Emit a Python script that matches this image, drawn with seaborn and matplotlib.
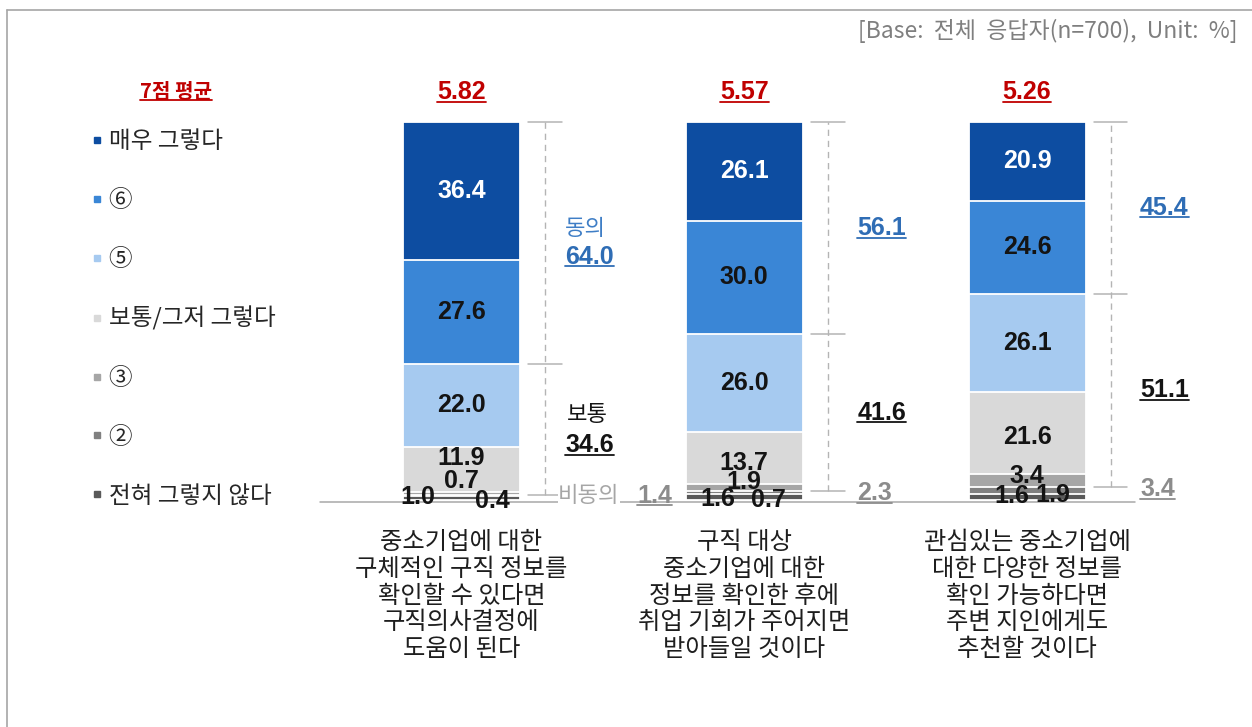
import matplotlib
matplotlib.use("Agg")
import matplotlib.pyplot as plt
import seaborn as sns
import pandas as pd
import numpy as np
from matplotlib.lines import Line2D

# ---------------- data ----------------
categories = [
    "중소기업에 대한\n구체적인 구직 정보를\n확인할 수 있다면\n구직의사결정에\n도움이 된다",
    "구직 대상\n중소기업에 대한\n정보를 확인한 후에\n취업 기회가 주어지면\n받아들일 것이다",
    "관심있는 중소기업에\n대한 다양한 정보를\n확인 가능하다면\n주변 지인에게도\n추천할 것이다",
]
levels = ["매우 그렇다", "⑥", "⑤", "보통/그저 그렇다", "③", "②", "전혀 그렇지 않다"]
v_very = [36.4, 26.1, 20.9]
v_6 = [27.6, 30.0, 24.6]
v_5 = [22.0, 26.0, 26.1]
v_mid = [11.9, 13.7, 21.6]
v_3 = [0.7, 1.9, 3.4]
v_2 = [0.4, 0.7, 1.9]
v_1 = [1.0, 1.6, 1.6]
means = ["5.82", "5.57", "5.26"]
agree = ["64.0", "56.1", "45.4"]
neutral = ["34.6", "41.6", "51.1"]
disagree = ["1.4", "2.3", "3.4"]
mean_title = "7점 평균"
base_note = "[Base:  전체  응답자(n=700),  Unit:  %]"
agree_word, neutral_word, disagree_word = "동의", "보통", "비동의"

# ---------------- style ----------------
W, H = 1252, 727
KR = ["Noto Sans CJK KR", "DejaVu Sans"]
NUM = ["Liberation Sans", "DejaVu Sans"]
colors_top_down = ["#0D4DA1", "#3A86D6", "#A6CAF0", "#D9D9D9", "#A6A6A6", "#808080", "#595959"]
txtcol_top_down = ["white", "#141414", "#141414", "#141414", "#141414", "#141414", "#141414"]
RED = "#C00000"
BLUE = "#2F6DB5"
GRAY_T = "#8C8C8C"
LINE_G = "#B4B4B4"
NFS = 18

sns.set_theme(style="white")
plt.rcParams["font.family"] = NUM + ["Noto Sans CJK KR"]

fig = plt.figure(figsize=(W / 100, H / 100), dpi=100)
ax = fig.add_axes([0, 0, 1, 1])

# mapping used only for layout of the canvas
X0, XS = 461.5, 282.75   # px of first category centre, px per category
Y0, YS = 500.0, 3.78     # px of 0 %, px per %

def dx(px):
    return (px - X0) / XS

def dy(py):
    return (Y0 - py) / YS

# stacked layers bottom -> top
layers_bt = [v_1, v_2, v_3, v_mid, v_5, v_6, v_very]
colors_bt = colors_top_down[::-1]
txt_bt = txtcol_top_down[::-1]
cum = np.cumsum(np.array(layers_bt), axis=0)   # shape (7, 3)
qs = ["Q1", "Q2", "Q3"]

BAR_W = 117 / XS
for k in range(len(layers_bt) - 1, -1, -1):
    df = pd.DataFrame({"q": qs, "v": cum[k]})
    sns.barplot(data=df, x="q", y="v", order=qs, color=colors_bt[k], saturation=1,
                width=BAR_W, edgecolor="white", linewidth=1.3, errorbar=None, ax=ax, zorder=3)

# baseline
ax.plot([dx(320), dx(1135)], [-0.45, -0.45], color="#A8A8A8", lw=1.1, zorder=2)

# segment labels (offsets are placement style only)
y_off = {3: [3.05, -1.3, -1.0], 2: [3.3, 1.5, 1.15], 1: [-1.5, -1.95, -1.25], 0: [0.3, -0.54, 0.26]}
x_off = {1: [0.108, 0.085, 0.092], 0: [-0.154, -0.095, -0.053]}
for k in range(len(layers_bt)):
    for i in range(3):
        v = layers_bt[k][i]
        base = cum[k - 1][i] if k > 0 else 0.0
        yc = base + v / 2 + y_off.get(k, [0, 0, 0])[i]
        xc = i + x_off.get(k, [0, 0, 0])[i]
        ax.text(xc, yc, f"{v:.1f}", ha="center", va="center", fontsize=NFS,
                fontweight="bold", color=txt_bt[k], family=NUM, zorder=5)

underline = []

# brackets
BR_X = 83.5 / XS
lab_x = [103.5 / XS, 113 / XS, 113 / XS]
for i in range(3):
    xb = i + BR_X
    top = cum[-1][i]
    mid = cum[4][i]                          # boundary between agree and neutral
    low = cum[1][i]                          # disagree level
    ax.plot([xb, xb], [low, top], ls=(0, (4.5, 3.5)), color=LINE_G, lw=1.0, zorder=2)
    for yy in (top, mid, low):
        ax.plot([xb - 0.06, xb + 0.06], [yy, yy], color=LINE_G, lw=1.1, zorder=2)
    lx = i + lab_x[i]
    ya = (top + mid) / 2
    yn = (mid + low) / 2
    yd = low * 0.8
    if i == 0:
        ax.text(lx, ya + 3.7, agree_word, ha="left", va="center", fontsize=16,
                color="#3F7EC6", family=KR, zorder=5)
        t = ax.text(lx, ya - 3.7, agree[i], ha="left", va="center", fontsize=NFS,
                    fontweight="bold", color=BLUE, family=NUM, zorder=5)
        underline.append((t, BLUE))
        ax.text(lx + 0.005, yn + 3.9, neutral_word, ha="left", va="center", fontsize=16,
                color="#141414", family=KR, zorder=5)
        t = ax.text(lx, yn - 4.2, neutral[i], ha="left", va="center", fontsize=NFS,
                    fontweight="bold", color="#141414", family=NUM, zorder=5)
        underline.append((t, "#141414"))
        ax.text(dx(558), yd, disagree_word, ha="left", va="center", fontsize=16,
                color="#A6A6A6", family=KR, zorder=5,
                bbox=dict(facecolor="white", edgecolor="none", pad=0.3))
        t = ax.text(dx(637), yd, disagree[i], ha="left", va="center", fontsize=NFS,
                    fontweight="bold", color=GRAY_T, family=NUM, zorder=5)
        underline.append((t, GRAY_T))
    else:
        t = ax.text(lx, ya, agree[i], ha="left", va="center", fontsize=NFS,
                    fontweight="bold", color=BLUE, family=NUM, zorder=5)
        underline.append((t, BLUE))
        t = ax.text(lx, yn, neutral[i], ha="left", va="center", fontsize=NFS,
                    fontweight="bold", color="#141414", family=NUM, zorder=5)
        underline.append((t, "#141414"))
        t = ax.text(lx, yd, disagree[i], ha="left", va="center", fontsize=NFS,
                    fontweight="bold", color=GRAY_T, family=NUM, zorder=5)
        underline.append((t, GRAY_T))

# means
for i in range(3):
    t = ax.text(i, dy(92), means[i], ha="center", va="center", fontsize=NFS,
                fontweight="bold", color=RED, family=NUM, zorder=5)
    underline.append((t, RED))
t = ax.text(dx(176), dy(92), mean_title, ha="center", va="center", fontsize=14.5,
            fontweight="bold", color=RED, family=KR, zorder=5)
underline.append((t, RED))

# category labels
for i in range(3):
    ax.text(i, dy(529), categories[i], ha="center", va="top", fontsize=17.5,
            color="#1E1E1E", family=KR, linespacing=1.04, zorder=5)

# top-right note
ax.text(dx(1238), dy(31), base_note, ha="right", va="center", fontsize=16.5,
        color="#7F7F7F", family=KR)

# legend
handles = [Line2D([], [], marker="s", linestyle="", markersize=5, color=c,
                  markeredgecolor=c) for c in colors_top_down]
leg = ax.legend(handles, levels, loc="upper left", bbox_to_anchor=(92 / W, 1 - 130 / H),
                bbox_transform=fig.transFigure, frameon=False,
                prop={"family": KR, "size": 17}, labelcolor="#262626",
                handlelength=0.4, handletextpad=0.3, labelspacing=1.52,
                borderpad=0, borderaxespad=0)

ax.set_xlim(dx(0), dx(W))
ax.set_ylim(dy(H), dy(0))
ax.axis("off")

# frame (left and top)
fig.add_artist(Line2D([7 / W, 7 / W], [0, 1 - 10 / H], transform=fig.transFigure,
                      color="#A6A6A6", lw=1.2))
fig.add_artist(Line2D([7 / W, 1], [1 - 10 / H, 1 - 10 / H], transform=fig.transFigure,
                      color="#A6A6A6", lw=1.2))

# underlines
fig.canvas.draw()
r = fig.canvas.get_renderer()
inv = fig.transFigure.inverted()
for t, c in underline:
    bb = t.get_window_extent(r)
    (x0, y0) = inv.transform((bb.x0, bb.y0 + 2.5))
    (x1, _) = inv.transform((bb.x1, bb.y0 + 2.5))
    fig.add_artist(Line2D([x0, x1], [y0, y0], transform=fig.transFigure, color=c, lw=1.3))

fig.savefig("out.png", dpi=100)
